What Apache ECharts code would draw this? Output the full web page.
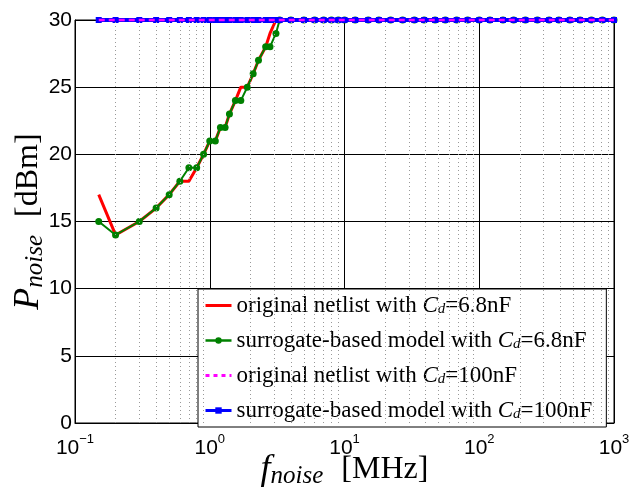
<!DOCTYPE html>
<html>
<head>
<meta charset="utf-8">
<script src="https://cdn.jsdelivr.net/npm/echarts@6/dist/echarts.min.js"></script>
<style>
  html, body { margin: 0; padding: 0; background: #fff; }
  #chart { width: 630px; height: 492px; }
</style>
</head>
<body>
<div id="chart"></div>
<script>
// frequencies (MHz) shared by the Cd=6.8nF curves, low part
const freqLow = [0.15, 0.2, 0.3, 0.4, 0.5, 0.6, 0.7, 0.8, 0.9, 1.0, 1.1, 1.2, 1.3, 1.4,
                 1.55, 1.7, 1.9, 2.1, 2.3, 2.6, 2.8, 3.1, 3.3];
// saturated part
const freqHigh = [4, 5, 6, 7, 8, 9, 10, 12, 15, 18, 22, 27, 33, 39, 47, 56, 68, 82,
                  100, 120, 150, 180, 220, 270, 330, 390, 470, 560, 680, 820, 1000];
const origSmall = [17, 14, 15, 16, 17, 18, 18, 19, 20, 21, 21, 22, 22, 23,
                   24, 25, 25, 26, 27, 28, 29, 30, 30];
const surrSmall = [15, 14, 15, 16, 17, 18, 19, 19, 20, 21, 21, 22, 22, 23,
                   24, 24, 25, 26, 27, 28, 28, 29, 30];
const satLevel = 30;
const minorTicks = [0.2, 0.3, 0.4, 0.5, 0.6, 0.7, 0.8, 0.9,
                    2, 3, 4, 5, 6, 7, 8, 9,
                    20, 30, 40, 50, 60, 70, 80, 90,
                    200, 300, 400, 500, 600, 700, 800, 900];
const names = [
  'original netlist with Cd=6.8nF',
  'surrogate-based model with Cd=6.8nF',
  'original netlist with Cd=100nF',
  'surrogate-based model with Cd=100nF'
];

const allFreq = freqLow.concat(freqHigh);
function pairs(ys) {
  return allFreq.map((f, i) => [f, i < ys.length ? ys[i] : satLevel]);
}
const flat = allFreq.map(f => [f, satLevel]);

const serif = 'Liberation Serif';
const sans = 'Liberation Sans';

const nameRich = {
  i: { fontFamily: serif, fontStyle: 'italic', fontSize: 36, color: '#000', lineHeight: 38 },
  s: { fontFamily: serif, fontStyle: 'italic', fontSize: 25, color: '#000', lineHeight: 26, verticalAlign: 'bottom' },
  t: { fontFamily: serif, fontSize: 32, color: '#000', lineHeight: 38, padding: [0, 0, 0, 18] }
};

let myChart = echarts.init(document.getElementById('chart'));
const option = {
  animation: false,
  backgroundColor: '#fff',
  grid: {
    left: 75, right: 16, top: 20, bottom: 69,
    containLabel: false, outerBoundsMode: 'none',
    show: true, borderColor: '#000', borderWidth: 1, backgroundColor: 'transparent'
  },
  xAxis: {
    type: 'log', logBase: 10, min: 0.1, max: 1000,
    axisLine: { lineStyle: { color: '#000', width: 1 } },
    axisTick: { inside: true, length: 5, lineStyle: { color: '#000' } },
    splitLine: { show: true, lineStyle: { color: '#000', width: 1 } },
    axisLabel: {
      margin: 10,
      formatter: function (v) {
        const e = Math.round(Math.log10(v));
        return '{b|10}{e|' + (e < 0 ? '\u2212' + (-e) : e) + '}';
      },
      rich: {
        b: { fontFamily: sans, fontSize: 21, color: '#000', lineHeight: 26, verticalAlign: 'bottom' },
        e: { fontFamily: sans, fontSize: 13, color: '#000', lineHeight: 26, verticalAlign: 'top' }
      }
    },
    name: '{i|f}{s|noise}{t|[MHz]}',
    nameLocation: 'middle',
    nameGap: 28,
    nameMoveOverlap: false,
    nameTextStyle: { rich: nameRich }
  },
  yAxis: {
    type: 'value', min: 0, max: 30, interval: 5,
    axisLine: { show: true, lineStyle: { color: '#000', width: 1 } },
    axisTick: { inside: true, length: 5, lineStyle: { color: '#000' } },
    splitLine: { show: true, lineStyle: { color: '#000', width: 1 } },
    axisLabel: { fontFamily: sans, fontSize: 21, color: '#000', margin: 3 },
    name: '{i|P}{s|noise}{t|[dBm]}',
    nameLocation: 'middle',
    nameGap: 27,
    nameMoveOverlap: false,
    nameTextStyle: { rich: nameRich }
  },
  legend: {
    data: [
      { name: names[0], itemStyle: { opacity: 0 }, lineStyle: { width: 3 } },
      { name: names[1], lineStyle: { width: 2.5 } },
      { name: names[2], itemStyle: { opacity: 0 }, lineStyle: { type: [4, 4], width: 3 } },
      { name: names[3], lineStyle: { width: 3 } }
    ],
    orient: 'vertical',
    left: 198, top: 289,
    padding: [5, 14, 5, 6],
    itemGap: 12,
    itemWidth: 26, itemHeight: 8,
    backgroundColor: '#fff',
    borderColor: '#000', borderWidth: 1,
    borderRadius: 0,
    formatter: function (name) {
      const parts = name.split('Cd');
      return '{t|' + parts[0] + '}{c|C}{d|d}{t|' + parts[1] + '}';
    },
    textStyle: {
      rich: {
        t: { fontFamily: serif, fontSize: 23, color: '#000', lineHeight: 22 },
        c: { fontFamily: serif, fontStyle: 'italic', fontSize: 23, color: '#000', lineHeight: 22 },
        d: { fontFamily: serif, fontStyle: 'italic', fontSize: 15, color: '#000', lineHeight: 14, verticalAlign: 'bottom' }
      }
    }
  },
  series: [
    {
      name: names[0], type: 'line', data: pairs(origSmall), clip: false,
      showSymbol: false, symbol: 'none', z: 2,
      lineStyle: { color: '#ff0000', width: 3 }, itemStyle: { color: '#ff0000' }
    },
    {
      name: names[1], type: 'line', data: pairs(surrSmall), clip: false,
      symbol: 'circle', symbolSize: 7, z: 3,
      lineStyle: { color: '#008000', width: 2 }, itemStyle: { color: '#008000' }
    },
    {
      name: names[2], type: 'line', data: flat, clip: false,
      symbol: 'none', z: 5,
      lineStyle: { color: '#ff00ff', width: 2.5, type: [6, 4] }, itemStyle: { color: '#ff00ff' }
    },
    {
      name: names[3], type: 'line', data: flat, clip: false,
      symbol: 'rect', symbolSize: 6, z: 4,
      lineStyle: { color: '#0000ff', width: 4 }, itemStyle: { color: '#0000ff' }
    },
    {
      name: 'minor', type: 'line', data: [], silent: true, z: 1,
      markLine: {
        silent: true, symbol: 'none', animation: false,
        label: { show: false },
        lineStyle: { color: '#999', width: 1, type: [1, 3] },
        data: minorTicks.map(v => ({ xAxis: v }))
      }
    }
  ]
};
myChart.setOption(option);
</script>
</body>
</html>
